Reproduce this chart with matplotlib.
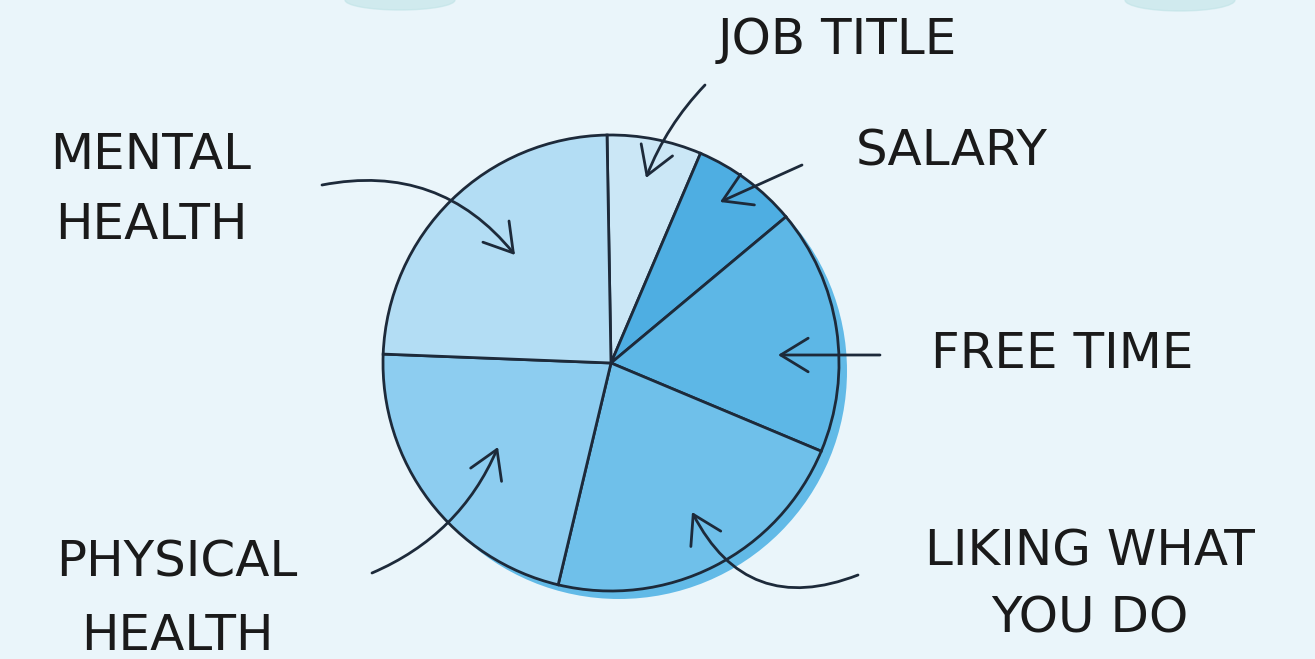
import matplotlib
matplotlib.use("Agg")
import matplotlib.pyplot as plt
from matplotlib.patches import Circle, Ellipse

# ---- data ----
categories = ["JOB TITLE", "SALARY", "FREE TIME", "LIKING WHAT\nYOU DO", "PHYSICAL\nHEALTH", "MENTAL\nHEALTH"]
values = [6.7, 7.5, 17.4, 22.4, 21.9, 24.1]
colors = ["#cbe7f6", "#4eaee2", "#5db7e6", "#6fc0ea", "#8dcdf0", "#b3ddf4"]

W, H = 1315, 659
fig = plt.figure(figsize=(W / 100, H / 100), dpi=100)
fig.patch.set_facecolor("#eaf5fa")
ax = fig.add_axes([0, 0, 1, 1])
ax.set_xlim(0, W)
ax.set_ylim(0, H)
ax.set_aspect("equal")
ax.axis("off")

def Y(y):
    return H - y

cx, cy, r = 611, Y(363), 228

# faint decorative blobs at top
ax.add_patch(Ellipse((400, Y(0)), 110, 20, color="#bfe3e6", alpha=0.6, zorder=0))
ax.add_patch(Ellipse((1180, Y(0)), 110, 22, color="#bfe3e6", alpha=0.6, zorder=0))

# shadow behind the pie
ax.add_patch(Circle((cx + 8, cy - 8), r, color="#62bae7", zorder=1, lw=0))

ax.pie(values, colors=colors, startangle=91, counterclock=False,
       center=(cx, cy), radius=r, frame=True,
       wedgeprops=dict(edgecolor="#1d2a3a", linewidth=2.0, zorder=2))
ax.set_xlim(0, W)
ax.set_ylim(0, H)
ax.axis("off")

tkw = dict(fontsize=36, color="#1a1a1a", family="DejaVu Sans", ha="center", va="center",
           multialignment="center")

# labels
ax.text(837, Y(40), categories[0], **tkw)
ax.text(952, Y(152), categories[1], **tkw)
ax.text(1062, Y(354), categories[2], **tkw)
ax.text(1090, Y(585), categories[3], linespacing=1.51, **tkw)
ax.text(177, Y(599), categories[4], linespacing=1.67, **tkw)
ax.text(151, Y(190), categories[5], linespacing=1.56, **tkw)

akw = dict(arrowstyle="->,head_length=0.9,head_width=0.55", color="#1d2a3a", lw=2.0,
           mutation_scale=22, shrinkA=0, shrinkB=0)

def arrow(x0, y0, x1, y1, rad):
    ax.annotate("", xy=(x1, Y(y1)), xytext=(x0, Y(y0)),
                arrowprops=dict(connectionstyle=f"arc3,rad={rad}", **akw), zorder=5)

arrow(705, 85, 646, 178, 0.1)       # job title
arrow(802, 165, 720, 202, 0.0)      # salary
arrow(880, 355, 778, 355, 0.0)      # free time
arrow(858, 575, 692, 512, -0.45)    # liking what you do
arrow(372, 573, 498, 447, 0.2)      # physical health
arrow(322, 185, 515, 255, -0.3)     # mental health

fig.savefig("out.png", dpi=100, facecolor=fig.get_facecolor())
